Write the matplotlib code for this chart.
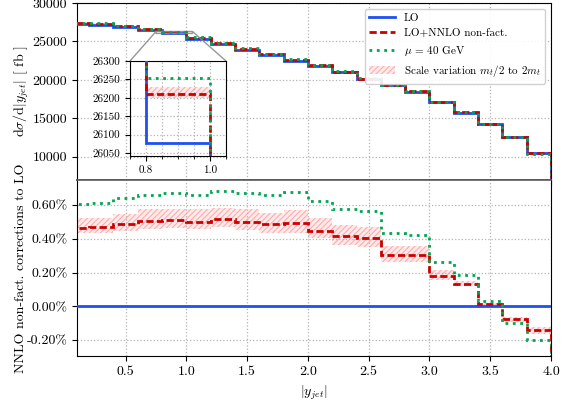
import numpy as np
import matplotlib
matplotlib.use("Agg")
import matplotlib.pyplot as plt
from matplotlib.ticker import FuncFormatter, MultipleLocator
from matplotlib.lines import Line2D
from matplotlib.patches import Patch

plt.rcParams['font.family'] = ['cmr10', 'DejaVu Serif']
plt.rcParams['mathtext.fontset'] = 'cm'
plt.rcParams['axes.formatter.use_mathtext'] = True
plt.rcParams['hatch.linewidth'] = 0.8

# bin edges of |y_jet|
edges = np.round(np.arange(0.0, 4.01, 0.2), 2)

# LO cross section per bin [fb]
lo = [27290, 27198, 26858, 26465, 26078, 25353, 24661, 23938, 23257, 22517,
      21804, 20999, 20107, 19316, 18462, 17115, 15760, 14235, 12652, 10461]
# NNLO non-factorisable corrections relative to LO [%]
nnlo_pct = [0.463, 0.469, 0.490, 0.506, 0.512, 0.498, 0.516, 0.502, 0.486, 0.494,
            0.449, 0.418, 0.406, 0.306, 0.306, 0.182, 0.131, 0.016, -0.076, -0.143]
# mu = 40 GeV corrections relative to LO [%]
mu40_pct = [0.606, 0.612, 0.641, 0.661, 0.670, 0.659, 0.686, 0.675, 0.659, 0.678,
            0.625, 0.578, 0.563, 0.437, 0.425, 0.265, 0.188, 0.031, -0.098, -0.198]
# scale variation band (m_t/2 to 2 m_t) [%]
band_lo_pct = [0.433, 0.433, 0.449, 0.457, 0.465, 0.457, 0.469, 0.453, 0.437, 0.437,
               0.404, 0.365, 0.355, 0.261, 0.261, 0.159, 0.120, 0.006, -0.092, -0.165]
band_hi_pct = [0.525, 0.525, 0.551, 0.575, 0.577, 0.575, 0.586, 0.575, 0.557, 0.571,
               0.525, 0.482, 0.473, 0.359, 0.359, 0.218, 0.149, 0.020, -0.063, -0.122]

lo_a = np.array(lo, float)
nnlo = lo_a * (1 + np.array(nnlo_pct) / 100)
mu40 = lo_a * (1 + np.array(mu40_pct) / 100)
blo = lo_a * (1 + np.array(band_lo_pct) / 100)
bhi = lo_a * (1 + np.array(band_hi_pct) / 100)

c_blue = '#1f50f0'
c_red = '#cc0000'
c_green = '#00a651'
band_kw = dict(fill=True, facecolor=(1, 0, 0, 0.08), edgecolor=(1, 0.3, 0.3, 0.4),
               hatch='//////', linewidth=0, zorder=1)
red_ls = (0, (2.6, 1.2))
lw = 2.0

fig = plt.figure(figsize=(5.68, 4.03), dpi=100)
L, R = 77 / 568, 551 / 568
ax1 = fig.add_axes([L, 1 - 180 / 403, R - L, 177 / 403])
ax2 = fig.add_axes([L, 1 - 356 / 403, R - L, 176 / 403], sharex=ax1)

grid_kw = dict(color='0.7', linestyle=':', linewidth=0.9)


def draw_top(ax):
    ax.stairs(bhi, edges, baseline=blo, **band_kw)
    ax.stairs(lo_a, edges, baseline=0, color=c_blue, lw=lw, zorder=3)
    ax.stairs(nnlo, edges, baseline=0, color=c_red, lw=lw, linestyle=red_ls, zorder=4)
    ax.stairs(mu40, edges, baseline=0, color=c_green, lw=lw, linestyle=':', zorder=5)


draw_top(ax1)
ax1.set_ylim(7000, 30000)
ax1.set_xlim(0.1, 4.0)
ax1.yaxis.set_major_locator(MultipleLocator(5000))
ax1.yaxis.set_major_formatter(FuncFormatter(lambda v, p: f'{v:.0f}'))
ax1.grid(True, **grid_kw)
ax1.tick_params(labelbottom=False, labelsize=10)
ax1.set_ylabel(r'$\mathrm{d}\sigma/\mathrm{d}|y_{jet}|$ [ fb ]', fontsize=10)
ax1.spines['bottom'].set_color('0.35')
ax1.spines['bottom'].set_linewidth(1.2)

handles = [
    Line2D([], [], color=c_blue, lw=lw),
    Line2D([], [], color=c_red, lw=lw, linestyle=red_ls),
    Line2D([], [], color=c_green, lw=lw, linestyle=':'),
    Patch(facecolor=(1, 0, 0, 0.08), edgecolor=(1, 0.3, 0.3, 0.4), hatch='//////', linewidth=0),
]
labels = ['LO', 'LO+NNLO non-fact.', r'$\mu$ = 40 GeV', r'Scale variation $m_t/2$ to $2m_t$']
leg = ax1.legend(handles, labels, loc='upper right', fontsize=8, framealpha=0.9,
                 edgecolor='0.8', handlelength=2.3)
leg.set_zorder(10)

# inset
axins = ax1.inset_axes([53 / 474, 24 / 177, 96 / 474, 95 / 177])
axins.set_zorder(8)
draw_top(axins)
axins.set_xlim(0.75, 1.05)
axins.set_ylim(26042, 26300)
axins.xaxis.set_major_locator(MultipleLocator(0.2))
axins.xaxis.set_minor_locator(MultipleLocator(0.05))
axins.yaxis.set_major_locator(MultipleLocator(50))
axins.xaxis.set_major_formatter(FuncFormatter(lambda v, p: f'{v:.1f}'))
axins.yaxis.set_major_formatter(FuncFormatter(lambda v, p: f'{v:.0f}'))
axins.grid(True, which='both', **grid_kw)
axins.tick_params(labelsize=8)
ax1.indicate_inset_zoom(axins, edgecolor='0.55', alpha=0.9)

# ratio panel
ax2.stairs(band_hi_pct, edges, baseline=band_lo_pct, **band_kw)
ax2.stairs(np.zeros(len(lo)), edges, baseline=None, color=c_blue, lw=lw, zorder=3)
ax2.stairs(nnlo_pct, edges, baseline=-100, color=c_red, lw=lw, linestyle=red_ls, zorder=4)
ax2.stairs(mu40_pct, edges, baseline=-100, color=c_green, lw=lw, linestyle=':', zorder=5)
ax2.set_ylim(-0.295, 0.75)
ax2.set_xlim(0.1, 4.0)
ax2.yaxis.set_major_locator(MultipleLocator(0.2))
ax2.yaxis.set_major_formatter(FuncFormatter(lambda v, p: f'{v:.2f}%'.replace('\u2212', '-')))
ax2.xaxis.set_major_locator(MultipleLocator(0.5))
ax2.xaxis.set_major_formatter(FuncFormatter(lambda v, p: f'{v:.1f}'))
ax2.grid(True, **grid_kw)
ax2.tick_params(labelsize=10)
ax2.set_ylabel('NNLO non-fact. corrections to LO', fontsize=10)
ax2.set_xlabel(r'$|y_{jet}|$', fontsize=10)
ax2.spines['top'].set_color('0.35')
ax2.spines['top'].set_linewidth(1.2)

ax1.yaxis.set_label_coords(-0.098, 0.5)
ax2.yaxis.set_label_coords(-0.106, 0.5)

fig.savefig('out.png', dpi=100)
